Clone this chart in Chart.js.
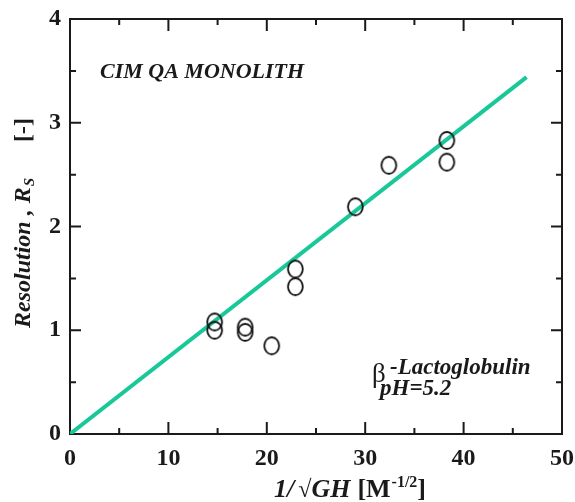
<!DOCTYPE html>
<html><head><meta charset="utf-8">
<script src="https://cdn.jsdelivr.net/npm/chart.js@4"></script>
<style>html,body{margin:0;padding:0;background:#fff;}</style>
</head><body>
<canvas id="c" width="575" height="502" style="display:block;width:575px;height:502px"></canvas>
<script>
// ---- data ----
const xValues = [14.7, 14.7, 17.8, 17.8, 20.5, 22.9, 22.9, 29.0, 32.4, 38.3, 38.3];
const yValues = [1.08, 1.00, 1.03, 0.98, 0.85, 1.59, 1.42, 2.19, 2.59, 2.83, 2.62];
const fitX = [0, 46.4];
const fitY = [0, 3.44];
const xTicks = [0, 10, 20, 30, 40, 50];
const yTicks = [0, 1, 2, 3, 4];
const xMinor = [5, 15, 25, 35, 45];
const yMinor = [0.5, 1.5, 2.5, 3.5];

const SERIF = '"Liberation Serif", "Times New Roman", serif';
const INK = '#1a1a1a';

// open ellipse marker (slightly taller than wide, as in the reference)
function makeMarker() {
  const c = document.createElement('canvas');
  c.width = 19; c.height = 21;
  const g = c.getContext('2d');
  g.strokeStyle = '#111';
  g.lineWidth = 1.8;
  g.beginPath();
  g.ellipse(9.5, 10.5, 7.4, 8.5, 0, 0, Math.PI * 2);
  g.stroke();
  return c;
}
const marker = makeMarker();

const framePlugin = {
  id: 'frame',
  beforeDatasetsDraw(chart) {
    const {ctx, chartArea: a, scales: {x, y}} = chart;
    ctx.save();
    ctx.strokeStyle = INK;
    ctx.lineWidth = 2;
    ctx.strokeRect(a.left, a.top, a.right - a.left, a.bottom - a.top);
    ctx.beginPath();
    const tick = (vals, len) => {
      vals.forEach(v => {
        const px = x.getPixelForValue(v);
        ctx.moveTo(px, a.bottom); ctx.lineTo(px, a.bottom - len);
        ctx.moveTo(px, a.top); ctx.lineTo(px, a.top + len);
      });
    };
    const ytick = (vals, len) => {
      vals.forEach(v => {
        const py = y.getPixelForValue(v);
        ctx.moveTo(a.left, py); ctx.lineTo(a.left + len, py);
        ctx.moveTo(a.right, py); ctx.lineTo(a.right - len, py);
      });
    };
    tick(xTicks, 12); tick(xMinor, 6);
    ytick(yTicks, 11); ytick(yMinor, 6);
    ctx.stroke();
    ctx.restore();
  }
};

const textPlugin = {
  id: 'texts',
  afterDraw(chart) {
    const ctx = chart.ctx;
    ctx.save();
    ctx.fillStyle = INK;
    ctx.textBaseline = 'alphabetic';
    ctx.textAlign = 'left';

    // y-axis title (rotated)
    ctx.save();
    ctx.translate(30, 328);
    ctx.rotate(-Math.PI / 2);
    ctx.font = 'italic bold 24px ' + SERIF;
    const ys = 'Resolution , R';
    ctx.fillText(ys, 0, 0);
    const yw = ctx.measureText(ys).width;
    ctx.font = 'italic bold 15px ' + SERIF;
    ctx.fillText('S', yw + 1, 4);
    ctx.font = 'bold 24px ' + SERIF;
    ctx.fillText('[-]', 186, 0);
    ctx.restore();

    // x-axis title
    let cx = 274; const by = 497;
    const part = (t, font, dy, gap) => { ctx.font = font; ctx.fillText(t, cx, by + (dy || 0)); cx += ctx.measureText(t).width + (gap || 0); };
    part('1/', 'italic bold 26px ' + SERIF, 0, 4);
    part('\u221A', '24px ' + SERIF);
    part('GH', 'italic bold 26px ' + SERIF, 0, 7);
    part('[M', 'bold 26px ' + SERIF, 0, 1);
    part('-1/2', 'bold 16px ' + SERIF, -10);
    part(']', 'bold 26px ' + SERIF);

    // annotations
    ctx.font = 'italic bold 22px ' + SERIF;
    ctx.fillText('CIM QA MONOLITH', 100, 78);
    ctx.font = '27px ' + SERIF;
    ctx.fillText('\u03B2', 372, 382);
    ctx.font = 'italic bold 23px ' + SERIF;
    ctx.fillText('-Lactoglobulin', 390, 374);
    ctx.fillText('pH=5.2', 380, 395);
    ctx.restore();
  }
};

const points = xValues.map((v, i) => ({x: v, y: yValues[i]}));
const fitLine = fitX.map((v, i) => ({x: v, y: fitY[i]}));

const noPad = s => { s.paddingLeft = 0; s.paddingRight = 0; s.paddingTop = 0; s.paddingBottom = 0; };

new Chart(document.getElementById('c'), {
  type: 'scatter',
  data: {
    datasets: [
      {
        type: 'line',
        data: fitLine,
        borderColor: '#19c898',
        borderWidth: 4,
        pointRadius: 0,
        fill: false,
        order: 2
      },
      {
        data: points,
        pointStyle: marker,
        pointRadius: 8,
        order: 1
      }
    ]
  },
  options: {
    responsive: false,
    animation: false,
    devicePixelRatio: 1,
    layout: {padding: {left: 0, top: 19, right: 13, bottom: 0}},
    plugins: {legend: {display: false}, tooltip: {enabled: false}},
    scales: {
      x: {
        type: 'linear', min: 0, max: 50,
        afterBuildTicks: s => { s.ticks = xTicks.map(v => ({value: v})); },
        afterFit: s => { s.height = 68; noPad(s); },
        grid: {display: false, drawTicks: false},
        border: {display: false},
        ticks: {color: INK, padding: 10, maxRotation: 0, font: {family: SERIF, size: 24, weight: 'bold'}}
      },
      y: {
        type: 'linear', min: 0, max: 4,
        afterBuildTicks: s => { s.ticks = yTicks.map(v => ({value: v})); },
        afterFit: s => { s.width = 70; noPad(s); },
        grid: {display: false, drawTicks: false},
        border: {display: false},
        ticks: {color: INK, padding: 9, font: {family: SERIF, size: 24, weight: 'bold'}}
      }
    }
  },
  plugins: [framePlugin, textPlugin]
});
</script>
</body></html>
